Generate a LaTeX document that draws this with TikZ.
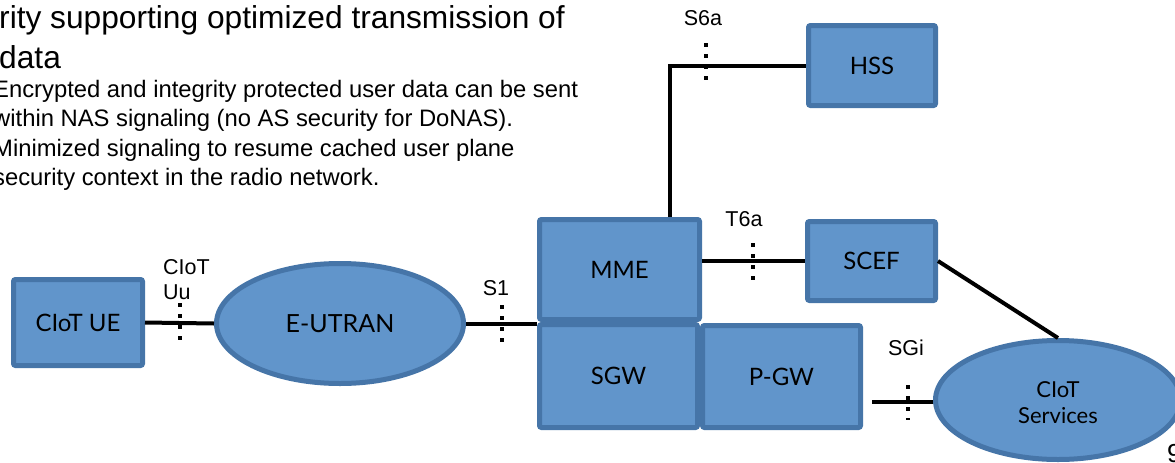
\documentclass[tikz,border=0pt]{standalone}
\usepackage{fontspec}
\setmainfont{Liberation Sans}
\newfontfamily\boxfont{Lato}
\usetikzlibrary{shapes.geometric}
\definecolor{nodefill}{HTML}{6195CB}
\definecolor{nodeedge}{HTML}{4675A8}

\begin{document}
\begin{tikzpicture}[x=1pt,y=-1pt,
  netbox/.style={draw=nodeedge, fill=nodefill, line width=5pt, rounded corners=2pt,
    inner sep=0pt, font=\boxfont\fontsize{24}{28}\selectfont},
  netcloud/.style={ellipse, draw=nodeedge, fill=nodefill, line width=5pt,
    inner sep=0pt, align=center},
  link/.style={line width=4pt, black},
  refpoint/.style={line width=4.5pt, black, dash pattern=on 4pt off 7pt},
  iflabel/.style={font=\fontsize{21.5}{25}\selectfont, inner sep=0pt, align=left},
  headline/.style={font=\fontsize{31.7}{40}\selectfont, inner sep=0pt, anchor=base west},
  bodyline/.style={font=\fontsize{23.8}{29}\selectfont, inner sep=0pt, anchor=base west}
]
\useasboundingbox (0,0) rectangle (1175,463);

% heading and bullet text
\node[headline] (head1) at (-1,28) {rity supporting optimized transmission of};
\node[headline] (head2) at (-1,68) {data};
\node[bodyline] (b1) at (-7,97) {Encrypted and integrity protected user data can be sent};
\node[bodyline] (b2) at (-7,126.5) {within NAS signaling (no AS security for DoNAS).};
\node[bodyline] (b3) at (-7,156) {Minimized signaling to resume cached user plane};
\node[bodyline] (b4) at (-7,185) {security context in the radio network.};

% network elements
\node[netbox, minimum width=129pt, minimum height=86pt] (ue) at (78,322.5) {CIoT UE};
\node[netcloud, minimum width=247pt, minimum height=120pt,
      font=\boxfont\fontsize{25}{28}\selectfont] (eutran) at (340,323.5) {E-UTRAN};
\node[netbox, minimum width=160pt, minimum height=100pt] (mme) at (619.5,269.5) {MME};
\node[netbox, minimum width=158pt, minimum height=103pt] (sgw) at (618.5,376) {SGW};
\node[netbox, minimum width=158pt, minimum height=102pt] (pgw) at (781.5,376.5) {P-GW};
\node[netbox, minimum width=128pt, minimum height=79pt] (scef) at (871.5,261) {SCEF};
\node[netbox, minimum width=127pt, minimum height=80pt] (hss) at (872,65.5) {HSS};
% the strut lowers the two text lines a little inside the ellipse
\node[netcloud, minimum width=245pt, minimum height=119pt,
      font=\boxfont\fontsize{22}{26}\selectfont] (svc) at (1058,400)
      {\rule{0pt}{22pt}CIoT\\Services};

% connectors
\coordinate (hssbend) at (670,67);
\coordinate (sgistart) at (872,402);
\draw[link] (ue.east) -- (eutran.west);
\draw[link] (eutran.east) -- (eutran.east -| mme.west);
\draw[link] (mme.north -| hssbend) |- (hss.west);
\draw[link] (scef.west -| mme.east) -- (scef.west);
\draw[link] (scef.east) -- (svc.north);
\draw[link] (sgistart) -- (sgistart -| svc.west);

% reference point markers
\draw[refpoint] (180,303) -- (180,343);
\draw[refpoint] (502,305) -- (502,346);
\draw[refpoint] (706,43) -- (706,82);
\draw[refpoint] (753,243) -- (753,280);
\draw[refpoint] (908,385) -- (908,420);

% interface labels
\node[iflabel, anchor=north west] (uulbl) at (163,259) {CIoT\\Uu};
\node[iflabel] (s1lbl) at (496,288) {S1};
\node[iflabel] (t6albl) at (744,219) {T6a};
\node[iflabel] (sgilbl) at (906,348) {SGi};
\node[iflabel] (s6albl) at (703,18.5) {S6a};

% page number
\node[font=\fontsize{26}{30}\selectfont, inner sep=0pt, anchor=base west] (pageno) at (1167,462) {9};
\end{tikzpicture}
\end{document}
